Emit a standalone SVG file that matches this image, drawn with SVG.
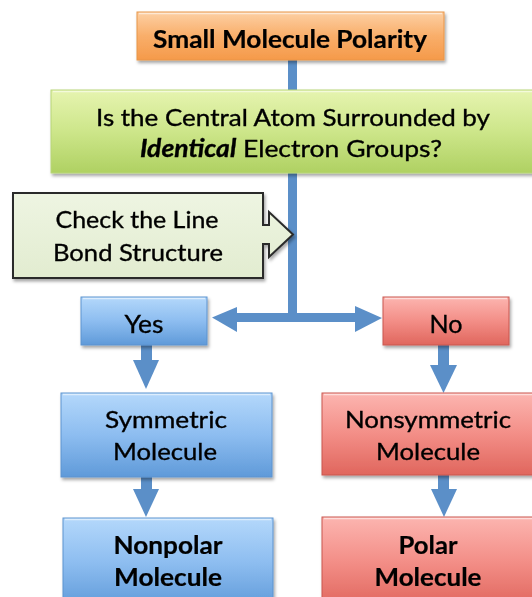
<svg xmlns="http://www.w3.org/2000/svg" width="532" height="597" viewBox="0 0 532 597">
<defs>
<linearGradient id="gOrange" x1="0" y1="0" x2="0" y2="1"><stop offset="0" stop-color="#fdd0a4"/><stop offset="0.5" stop-color="#f9ae6a"/><stop offset="1" stop-color="#f59a4a"/></linearGradient>
<linearGradient id="gGreen" x1="0" y1="0" x2="0" y2="1"><stop offset="0" stop-color="#e6f4b0"/><stop offset="0.5" stop-color="#cde68a"/><stop offset="1" stop-color="#afd162"/></linearGradient>
<linearGradient id="gBlue" x1="0" y1="0" x2="0" y2="1"><stop offset="0" stop-color="#b4d8fb"/><stop offset="0.5" stop-color="#8dbdf0"/><stop offset="1" stop-color="#5f9ad9"/></linearGradient>
<linearGradient id="gRed" x1="0" y1="0" x2="0" y2="1"><stop offset="0" stop-color="#fcb5b0"/><stop offset="0.5" stop-color="#f38e87"/><stop offset="1" stop-color="#e0665d"/></linearGradient>
<linearGradient id="gCheck" x1="0" y1="0" x2="0" y2="1"><stop offset="0" stop-color="#eef5e2"/><stop offset="1" stop-color="#e2ecd0"/></linearGradient>
<filter id="sh" x="-10%" y="-10%" width="130%" height="140%"><feDropShadow dx="1.5" dy="2.5" stdDeviation="1.8" flood-color="#000" flood-opacity="0.35"/></filter>
</defs>
<style>
.t{font-family:Lato,"Open Sans","Liberation Sans",sans-serif;fill:#000;text-anchor:middle;stroke:#000;stroke-width:0.35;}
.b{font-weight:bold;stroke-width:0.2;}
.conn{fill:#5b8fc8;}
.orange{fill:url(#gOrange);stroke:#e89548;stroke-width:1;}
.green{fill:url(#gGreen);stroke:#b8d678;stroke-width:1;}
.blue{fill:url(#gBlue);stroke:#5d93cf;stroke-width:1;}
.red{fill:url(#gRed);stroke:#c9574f;stroke-width:1;}
.check{fill:url(#gCheck);stroke:#2a2a2a;stroke-width:2;}
.hl{fill:none;stroke:#ffffff;stroke-opacity:0.55;stroke-width:1.5;}
</style>

<g id="connectors">
  <rect class="conn" x="288" y="60" width="9" height="31"/>
  <rect class="conn" x="288" y="172" width="9" height="150"/>
  <rect class="conn" x="234" y="313" width="124" height="9"/>
  <polygon class="conn" points="237,307 212,317.5 237,332"/>
  <polygon class="conn" points="355,306 382,318 355,332"/>
  <rect class="conn" x="141" y="345" width="11" height="17"/>
  <polygon class="conn" points="133,360 159,360 146,389"/>
  <rect class="conn" x="141" y="477" width="11" height="14"/>
  <polygon class="conn" points="133,489 159,489 146,517"/>
  <rect class="conn" x="438" y="345" width="11" height="22"/>
  <polygon class="conn" points="430,365 457,365 443.5,393"/>
  <rect class="conn" x="438" y="475" width="11" height="16"/>
  <polygon class="conn" points="431,489 457,489 444,517"/>
</g>

<g id="title" filter="url(#sh)">
  <rect class="orange" x="137" y="12" width="307" height="48"/>
  <line class="hl" x1="139" y1="13.5" x2="442" y2="13.5"/>
  <text class="t b" x="290" y="48" font-size="24" textLength="274" lengthAdjust="spacingAndGlyphs">Small Molecule Polarity</text>
</g>

<g id="question" filter="url(#sh)">
  <rect class="green" x="51" y="90" width="484" height="83"/>
  <line class="hl" x1="53" y1="91.5" x2="533" y2="91.5"/>
  <text class="t" x="293" y="126" font-size="24" textLength="394" lengthAdjust="spacingAndGlyphs">Is the Central Atom Surrounded by</text>
  <text class="t" x="291" y="157" font-size="24" textLength="302" lengthAdjust="spacingAndGlyphs"><tspan font-weight="bold" font-style="italic">Identical</tspan> Electron Groups?</text>
</g>

<g id="check" filter="url(#sh)">
  <path class="check" d="M13,193 H263 V225 H269 V212 L293,234.5 L269,257 V244 H263 V278 H13 Z"/>
  <text class="t" x="137" y="228" font-size="24" textLength="163" lengthAdjust="spacingAndGlyphs">Check the Line</text>
  <text class="t" x="138" y="261" font-size="24" textLength="170" lengthAdjust="spacingAndGlyphs">Bond Structure</text>
</g>

<g id="yes" filter="url(#sh)">
  <rect class="blue" x="81" y="297" width="126" height="48"/>
  <line class="hl" x1="83" y1="298.5" x2="205" y2="298.5"/>
  <text class="t" x="144" y="333" font-size="25" textLength="39" lengthAdjust="spacingAndGlyphs">Yes</text>
</g>

<g id="no" filter="url(#sh)">
  <rect class="red" x="383" y="297" width="126" height="48"/>
  <line class="hl" x1="385" y1="298.5" x2="507" y2="298.5"/>
  <text class="t" x="446" y="333" font-size="25" textLength="33" lengthAdjust="spacingAndGlyphs">No</text>
</g>

<g id="symmetric" filter="url(#sh)">
  <rect class="blue" x="61" y="393" width="211" height="84"/>
  <line class="hl" x1="63" y1="394.5" x2="270" y2="394.5"/>
  <text class="t" x="166" y="428" font-size="24" textLength="122" lengthAdjust="spacingAndGlyphs">Symmetric</text>
  <text class="t" x="165" y="460" font-size="24" textLength="104" lengthAdjust="spacingAndGlyphs">Molecule</text>
</g>

<g id="nonsymmetric" filter="url(#sh)">
  <rect class="red" x="322" y="393" width="214" height="82"/>
  <line class="hl" x1="324" y1="394.5" x2="534" y2="394.5"/>
  <text class="t" x="428" y="428" font-size="24" textLength="166" lengthAdjust="spacingAndGlyphs">Nonsymmetric</text>
  <text class="t" x="428" y="460" font-size="24" textLength="104" lengthAdjust="spacingAndGlyphs">Molecule</text>
</g>

<g id="nonpolar" filter="url(#sh)">
  <rect class="blue" x="63" y="518" width="210" height="90"/>
  <line class="hl" x1="65" y1="519.5" x2="271" y2="519.5"/>
  <text class="t b" x="168" y="554" font-size="24" textLength="109" lengthAdjust="spacingAndGlyphs">Nonpolar</text>
  <text class="t b" x="168" y="586" font-size="24" textLength="108" lengthAdjust="spacingAndGlyphs">Molecule</text>
</g>

<g id="polar" filter="url(#sh)">
  <rect class="red" x="322" y="517" width="214" height="90"/>
  <line class="hl" x1="324" y1="518.5" x2="534" y2="518.5"/>
  <text class="t b" x="428" y="554" font-size="24" textLength="59" lengthAdjust="spacingAndGlyphs">Polar</text>
  <text class="t b" x="428" y="586" font-size="24" textLength="107" lengthAdjust="spacingAndGlyphs">Molecule</text>
</g>
</svg>
